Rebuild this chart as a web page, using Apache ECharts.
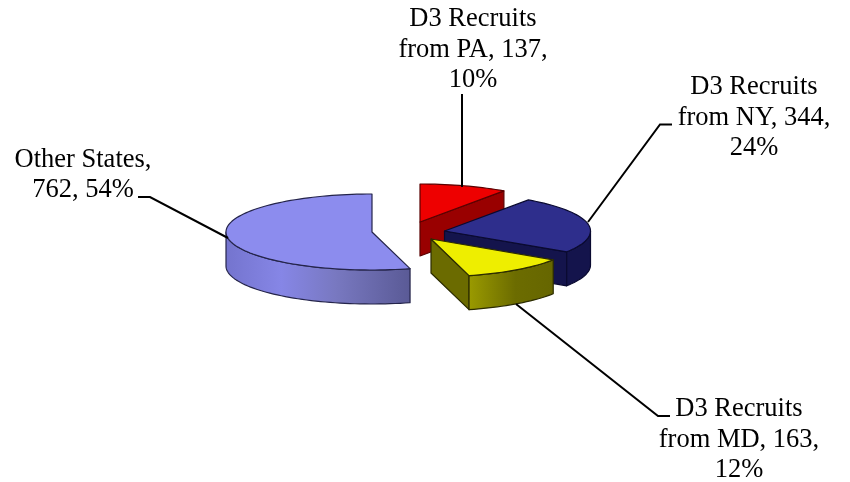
<!DOCTYPE html>
<html>
<head>
<meta charset="utf-8">
<style>html,body{margin:0;padding:0;background:#fff}#c{width:850px;height:482px}</style>
<script src="https://cdn.jsdelivr.net/npm/echarts@6/dist/echarts.min.js"></script>
</head>
<body>
<div id="c"></div>
<script>
// Data
const categories = ['D3 Recruits\nfrom PA', 'D3 Recruits\nfrom NY', 'D3 Recruits\nfrom MD', 'Other States'];
const values = [137, 344, 163, 762];
const percents = ['10%', '24%', '12%', '54%'];
const separators = [',\n', ',\n', ',\n', ', '];
const valueBreaks = [', ', ', ', ', ', ',\n'];

// Presentation
const RX = 146, RY = 38, DEPTH = 34;
const centers = [[420, 222], [444.5, 231], [431, 239], [372, 232]];
const topColors = ['#EE0000', '#2E2E8C', '#EEEE00', '#8C8CEE'];
const edgeColors = ['#5a0000', '#0a0a30', '#2c2c00', '#24244a'];
const sideColors = ['#990000', '#14144C', '#6B6B00', '#5A5A96'];
const wallStops = [
  [[0, '#990000'], [1, '#990000']],
  [[0, '#14144C'], [1, '#14144C']],
  [[0, '#9A9A00'], [0.55, '#6C6C00'], [1, '#666600']],
  [[0, '#7474CE'], [0.3, '#8686E6'], [0.6, '#7878C0'], [1, '#5A5A96']]
];
const labelCenters = [[473, 50], [754, 118], [739, 440], [83, 175]];
const leaders = [
  [[462, 94], [462, 187]],
  [[672, 124.5], [660, 124.5], [588, 222]],
  [[670, 416], [658, 416], [516, 304]],
  [[138, 197], [150, 197], [228, 238]]
];

const total = values.reduce((a, b) => a + b, 0);
const startAngles = [];
values.reduce((acc, v, i) => { startAngles[i] = acc; return acc + v / total * 360; }, 0);

function pt(c, deg, dy) {
  const t = deg * Math.PI / 180;
  return [c[0] + RX * Math.sin(t), c[1] - RY * Math.cos(t) + (dy || 0)];
}
function arc(c, a, b, dy) {
  const out = [], n = Math.max(2, Math.ceil(Math.abs(b - a) / 2));
  for (let i = 0; i <= n; i++) out.push(pt(c, a + (b - a) * i / n, dy));
  return out;
}
function poly(points, fill, stroke) {
  return { type: 'polygon', shape: { points }, style: { fill, stroke, lineWidth: 1.2, lineJoin: 'round' } };
}

function renderItem(params, api) {
  const i = api.value(1), v = api.value(0);
  const a = startAngles[i], b = a + v / total * 360;
  const c = centers[i];
  const kids = [];
  const edge = edgeColors[i];
  const radial = ang => {
    const p = pt(c, ang), q = pt(c, ang, DEPTH);
    return poly([c, p, q, [c[0], c[1] + DEPTH]], sideColors[i], edge);
  };
  if (b < 180) kids.push(radial(b));
  if (a > 180) kids.push(radial(a));
  const fa = Math.max(a, 90), fb = Math.min(b, 270);
  if (fb > fa) {
    const upper = arc(c, fa, fb, 0), lower = arc(c, fb, fa, DEPTH);
    const xs = upper.map(p => p[0]);
    const x0 = Math.min.apply(null, xs), x1 = Math.max.apply(null, xs);
    const stops = wallStops[i].map(s => ({ offset: s[0], color: s[1] }));
    kids.push(poly(upper.concat(lower), {
      type: 'linear', x: x0, y: 0, x2: x1, y2: 0, global: true, colorStops: stops
    }, edge));
  }
  kids.push(poly([c].concat(arc(c, a, b, 0)), topColors[i], edge));
  kids.push({ type: 'polyline', shape: { points: leaders[i] }, style: { fill: null, stroke: '#000', lineWidth: 2 } });
  const txt = categories[i] + valueBreaks[i] + v + separators[i] + percents[i];
  kids.push({
    type: 'text', x: labelCenters[i][0], y: labelCenters[i][1],
    style: { text: txt, fill: '#000', font: '26.5px "Liberation Serif"', lineHeight: 30.5, align: 'center', verticalAlign: 'middle' }
  });
  return { type: 'group', children: kids };
}

const chart = echarts.init(document.getElementById('c'), null, { renderer: 'canvas' });
chart.setOption({
  backgroundColor: '#fff',
  animation: false,
  series: [{
    type: 'custom',
    coordinateSystem: 'none',
    renderItem,
    data: [3, 0, 1, 2].map(i => [values[i], i])
  }]
});
</script>
</body>
</html>
